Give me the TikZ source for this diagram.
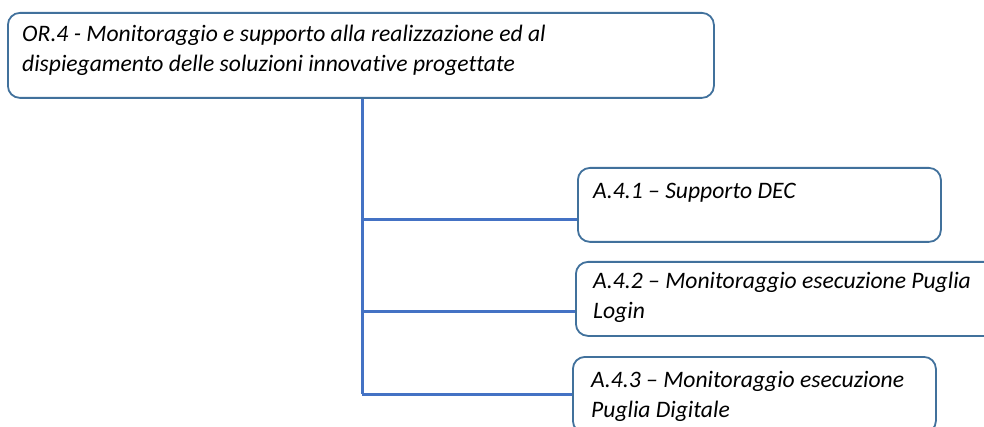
\documentclass[tikz,border=0pt]{standalone}
\usepackage{fontspec}
\setmainfont[Ligatures={NoCommon}]{Carlito}
\definecolor{boxblue}{HTML}{41719C}
\definecolor{lineblue}{HTML}{4472C4}
\newcommand{\firstline}{\rule{0pt}{20pt}}
\begin{document}
\begin{tikzpicture}[x=1pt,y=-1pt,
  box/.style={draw=boxblue, line width=1.8pt, rounded corners=12pt, fill=white, anchor=north west, inner sep=0pt},
  conn/.style={draw=lineblue, line width=3pt},
  lbl/.style={anchor=north west, inner sep=0pt, align=left, font=\fontsize{23.6}{30.5}\selectfont\itshape, text=black}]
\useasboundingbox (0,0) rectangle (984,427);
\clip (0,0) rectangle (984,427);
\coordinate (trunk) at (362,0);
\coordinate (j1) at (362,220);
\coordinate (j2) at (362,311);
\coordinate (j3) at (362,394);
% boxes
\node[box, minimum width=706pt, minimum height=85pt] (or4) at (7,12) {};
\node[box, minimum width=363pt, minimum height=74pt] (a41) at (577,167) {};
\node[box, minimum width=440pt, minimum height=74pt] (a42) at (575,261) {};
\node[box, minimum width=363pt, minimum height=76pt] (a43) at (572,356) {};
% connectors
\draw[conn] (or4.south -| trunk) -- (j3);
\draw[conn] (j1) -- (j1 -| a41.west);
\draw[conn] (j2) -- (j2 -| a42.west);
\draw[conn] (j3) -- (j3 -| a43.west);
% labels
\node[lbl] (t0) at (22,21) {\firstline OR.4 - Monitoraggio e supporto alla realizzazione ed al\\dispiegamento delle soluzioni innovative progettate};
\node[lbl] (t1) at (593,178) {\firstline A.4.1 – Supporto DEC};
\node[lbl] (t2) at (593,268) {\firstline A.4.2 – Monitoraggio esecuzione Puglia\\Login};
\node[lbl] (t3) at (591,367) {\firstline A.4.3 – Monitoraggio esecuzione\\Puglia Digitale};
\end{tikzpicture}
\end{document}
